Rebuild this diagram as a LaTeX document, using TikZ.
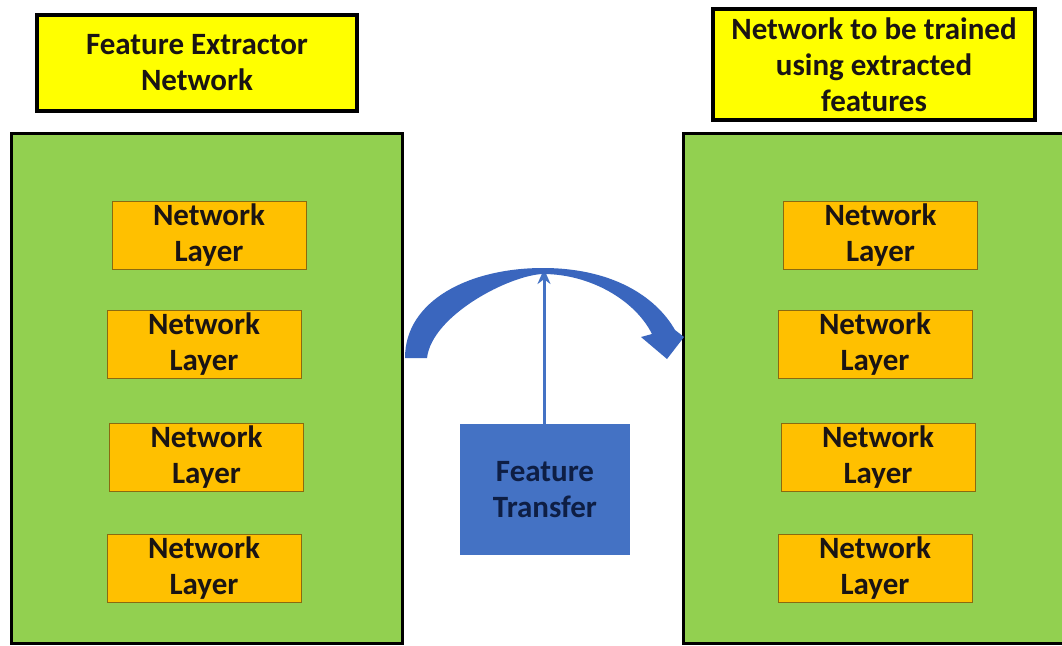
\documentclass[tikz,border=0pt]{standalone}
\usepackage{fontspec}
\setmainfont{Carlito}
\usetikzlibrary{arrows.meta}
\definecolor{grn}{HTML}{92D050}
\definecolor{org}{HTML}{FFC000}
\definecolor{yel}{HTML}{FFFF00}
\definecolor{blu}{HTML}{4472C4}
\definecolor{arcblu}{HTML}{3A66BE}
\definecolor{txt}{HTML}{1A1414}
\definecolor{ftxt}{HTML}{0E1E44}
\definecolor{layerborder}{HTML}{8A6A10}
\tikzset{
  lbl/.style={font=\bfseries\fontsize{31}{36}\selectfont, text=txt, align=center, inner sep=0pt},
  titlebox/.style={lbl, draw=black, line width=3.5pt, fill=yel},
  panel/.style={draw=black, line width=3pt, fill=grn, inner sep=0pt},
  layerbox/.style={lbl, draw=layerborder, line width=1pt, fill=org, minimum width=194pt, minimum height=68pt},
  ftbox/.style={lbl, text=ftxt, fill=blu, minimum width=170pt, minimum height=131pt},
  uparrow/.style={draw=blu, line width=3pt, -{Stealth[length=15pt,width=13pt]}},
}
\begin{document}
\begin{tikzpicture}[x=1pt,y=-1pt]
\clip (0,0) rectangle (1062,645);
\fill[white] (0,0) rectangle (1062,645);
% panels
\node[panel, minimum width=391pt, minimum height=510pt] (lpanel) at (206.5,388) {};
\node[panel, minimum width=390pt, minimum height=510pt] (rpanel) at (878,388) {};
% titles
\node[titlebox, minimum width=320pt, minimum height=96pt] (ltitle) at (197,63) {Feature Extractor\\Network};
\node[titlebox, minimum width=322pt, minimum height=111pt] (rtitle) at (874,64.5) {Network to be trained\\using extracted\\features};
% layers left
\node[layerbox] (l1) at (209,235) {Network\\Layer};
\node[layerbox] (l2) at (204,344.5) {Network\\Layer};
\node[layerbox] (l3) at (206.5,457.5) {Network\\Layer};
\node[layerbox] (l4) at (204,568) {Network\\Layer};
% layers right
\node[layerbox] (r1) at (880.5,235) {Network\\Layer};
\node[layerbox] (r2) at (875,344.5) {Network\\Layer};
\node[layerbox] (r3) at (878,457.5) {Network\\Layer};
\node[layerbox] (r4) at (875,568) {Network\\Layer};
% feature transfer
\node[ftbox] (ft) at (545,489.5) {Feature\\Transfer};
\coordinate (top) at (544,269);
\draw[uparrow] (ft.north -| top) -- (top);
% curved block arrow
\fill[arcblu] (405,358) .. controls (405,300) and (470,268) .. (543,268)
  .. controls (610,268) and (655,295) .. (675,330)
  -- (684,337) -- (667,359) -- (641,337) -- (652,334)
  .. controls (635,300) and (590,274) .. (543,274)
  .. controls (510,275) and (432,315) .. (427,358) -- cycle;
\end{tikzpicture}
\end{document}
